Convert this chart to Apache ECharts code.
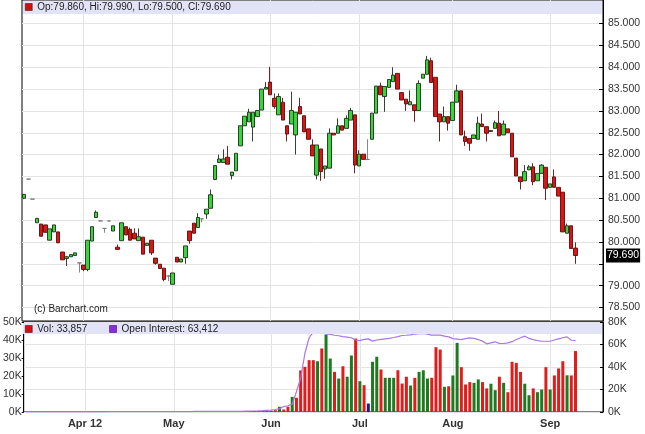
<!DOCTYPE html>
<html>
<head>
<meta charset="utf-8">
<script src="https://cdn.jsdelivr.net/npm/echarts@6/dist/echarts.min.js"></script>
<style>
  html, body { margin: 0; padding: 0; background: #fff; }
  #chart { width: 645px; height: 434px; }
</style>
</head>
<body>
<div id="chart"></div>
<script>
// Barchart-style daily candles with volume / open interest panel.
const FONT = '"Liberation Sans", Arial, sans-serif';
const C = {
  up: '#35d635', down: '#dc1414', upBorder: '#1e2e1e', downBorder: '#5c0b0b',
  doji: '#777', volUp: '#1e7a1e', volDown: '#e21b1b', volFlat: '#1b1b7a',
  oi: '#ad74e6', oiKey: '#8a2be2', grid: '#e3e3e3', band: '#e3e3f8', text: '#333',
};

// [open, close, low, high] per trading day
const prices = [
  [81.00,81.09,80.98,81.10],[81.44,81.44,81.44,81.44],[80.98,80.98,80.98,80.98],[80.44,80.54,80.44,80.54],
  [80.41,80.13,80.13,80.41],[80.39,80.22,80.22,80.39],[80.04,80.30,80.04,80.30],[80.23,80.39,80.23,80.39],
  [80.23,79.98,79.98,80.23],[79.77,79.59,79.59,79.77],[79.62,79.66,79.45,79.68],[79.66,79.71,79.66,79.71],
  [79.69,79.75,79.69,79.75],[79.52,79.52,79.30,79.52],[79.47,79.37,79.33,79.47],[79.37,80.04,79.33,80.04],
  [80.02,80.35,80.02,80.35],[80.56,80.68,80.56,80.72],[80.48,80.48,80.48,80.48],[80.31,80.31,80.21,80.31],
  [80.48,80.48,80.48,80.48],[80.25,80.37,80.25,80.37],[79.88,79.83,79.83,79.94],[80.03,80.44,80.03,80.44],
  [80.35,80.16,80.16,80.35],[80.29,80.04,80.04,80.33],[80.20,80.07,80.07,80.31],[80.03,80.12,80.03,80.31],
  [80.11,79.72,79.72,80.11],[79.92,79.97,79.92,79.97],[80.04,79.75,79.70,80.04],[79.63,79.51,79.48,79.63],
  [79.49,79.39,79.39,79.49],[79.40,79.14,79.10,79.40],[79.22,79.22,79.10,79.24],[79.03,79.29,79.03,79.29],
  [79.65,79.54,79.54,79.65],[79.54,79.61,79.54,79.61],[79.64,79.91,79.50,79.91],[80.25,80.03,79.96,80.25],
  [80.43,80.20,80.20,80.43],[80.33,80.56,80.33,80.66],[80.53,80.53,80.45,80.53],[80.64,80.75,80.53,80.75],
  [80.77,81.08,80.77,81.20],[81.43,81.75,81.43,81.75],[81.82,81.90,81.82,82.00],[81.82,81.90,81.82,82.12],
  [81.94,81.78,81.78,82.20],[81.52,81.60,81.43,81.60],[81.63,82.03,81.63,82.03],[82.20,82.66,82.20,82.66],
  [82.66,82.88,82.66,82.88],[82.75,82.97,82.75,83.05],[82.63,82.97,82.30,82.97],[82.87,83.01,82.87,83.01],
  [83.02,83.50,83.02,83.50],[83.50,83.54,83.50,83.66],[83.66,83.37,83.37,84.01],[83.29,83.10,83.05,83.40],
  [82.91,83.33,82.91,83.40],[83.20,82.79,82.79,83.30],[82.66,82.47,82.30,82.66],[82.70,83.01,82.70,83.44],
  [82.45,82.97,82.00,82.97],[83.10,82.93,82.93,83.30],[82.89,82.52,82.52,82.89],[82.59,82.35,82.35,82.59],
  [82.22,81.97,81.97,82.35],[81.53,82.22,81.43,82.22],[82.13,81.61,81.40,82.13],[81.67,81.74,81.45,81.74],
  [81.69,82.49,81.69,82.60],[82.49,82.45,82.45,82.49],[82.49,82.66,82.49,82.83],[82.66,82.56,82.56,82.66],
  [82.60,82.83,82.60,82.90],[82.79,83.01,82.79,83.07],[82.91,81.76,81.57,82.91],[81.74,82.01,81.74,82.10],
  [82.01,81.89,81.89,82.01],[81.89,81.89,81.89,82.35],[82.35,82.95,82.35,82.95],[82.95,83.57,82.95,83.57],
  [83.57,83.37,83.37,83.65],[83.33,83.56,82.98,83.56],[83.54,83.72,83.54,83.72],[83.67,83.82,83.67,84.00],
  [83.86,83.50,83.50,83.86],[83.42,83.25,83.25,83.42],[83.27,83.16,83.00,83.27],[83.14,83.21,83.14,83.47],
  [83.14,83.01,82.75,83.14],[83.01,83.63,83.01,83.70],[83.75,83.84,83.75,83.84],[83.84,84.17,83.84,84.26],
  [84.15,83.65,83.65,84.22],[83.77,82.87,82.87,83.77],[82.93,82.75,82.30,82.93],[82.75,82.87,82.75,83.10],
  [82.87,82.72,82.55,82.87],[82.78,83.20,82.78,83.20],[83.20,83.46,83.20,83.60],[83.46,82.45,82.45,83.46],
  [82.41,82.30,82.20,82.55],[82.37,82.26,82.09,82.37],[82.37,82.45,82.37,82.45],[82.35,82.72,82.35,82.87],
  [82.70,82.64,82.64,82.94],[82.64,82.49,82.30,82.64],[82.53,82.55,82.53,82.55],[82.60,82.73,82.60,82.78],
  [82.72,82.43,82.43,83.00],[82.45,82.70,82.45,82.78],[82.59,82.50,82.50,82.59],[82.49,81.95,81.95,82.49],
  [81.92,81.51,81.51,81.92],[81.49,81.38,81.20,81.49],[81.40,81.61,81.40,81.76],[81.65,81.72,81.65,81.76],
  [81.72,81.38,81.30,81.80],[81.40,81.57,81.40,81.57],[81.57,81.76,81.57,81.78],[81.71,81.23,80.96,81.71],
  [81.25,81.33,81.25,81.33],[81.49,81.25,81.25,81.66],[81.25,81.05,81.05,81.25],[81.14,80.23,80.23,81.14],
  [80.20,80.37,80.20,80.42],[80.37,79.85,79.85,80.37],[79.86,79.69,79.50,79.99],
];

// volume, thousands of contracts
const volume = [
  0.1,0.1,0.1,0.1,0.1,0.1,0.1,0.1,0.1,0.1,0.1,0.1,0.1,0.1,0.1,0.1,0.1,0.1,0.1,0.1,
  0.1,0.1,0.1,0.1,0.1,0.1,0.1,0.1,0.1,0.1,0.1,0.1,0.1,0.1,0.1,0.1,0.1,0.1,0.1,0.1,
  0.1,0.1,0.1,0.1,0.1,0.1,0.1,0.1,0.1,0.1,0.3,0.4,0.2,0.5,0.3,0.6,0.4,0.5,0.8,1.0,
  2.9,1.4,2.9,8.4,7.9,23.1,25.1,28.8,28.8,28.2,35.3,43.1,29.7,22.3,18.6,25.4,19.6,31.4,40.8,17.1,
  14.9,4.7,27.9,30.7,23.6,19.0,19.0,19.0,23.2,15.8,19.6,14.7,19.0,22.3,23.2,18.6,19.0,36.0,34.7,14.0,
  14.3,20.3,38.4,24.9,15.3,16.6,16.2,18.1,16.6,13.1,15.7,12.1,19.6,16.2,11.0,27.9,27.3,22.3,15.7,9.3,
  13.1,11.0,12.5,24.9,12.5,20.3,24.2,28.2,20.4,20.3,33.857,
];

// open interest, thousands of contracts
const openInterest = [
  0.2,0.2,0.2,0.2,0.2,0.2,0.2,0.2,0.2,0.2,0.2,0.2,0.2,0.2,0.2,0.2,0.2,0.2,0.2,0.2,
  0.3,0.3,0.3,0.3,0.3,0.3,0.3,0.3,0.3,0.3,0.3,0.3,0.3,0.3,0.3,0.3,0.3,0.3,0.3,0.3,
  0.5,0.5,0.5,0.5,0.5,0.5,0.5,0.5,0.5,0.5,0.5,0.6,0.7,0.8,0.9,1.0,1.2,1.5,1.8,2.2,
  3.0,4.9,5.5,7.0,18,30,52,66,71,71.8,71.2,69.5,69,68.2,67.8,67,66.5,66,64,63.5,
  64.5,65,63,64,64.5,65,65.5,66.2,67,68,68.2,68.5,69.3,69.6,69.8,69.2,68.3,68.3,68.3,67.5,
  66.8,65.2,64.8,64.4,65.2,65.9,65.5,64.4,63,60.6,61.5,62.4,61,60.9,61.5,62.5,64.4,66,67.4,65.5,
  64.4,63.5,62.9,62.9,62.9,64,65,66,66.8,63.8,63.412,
];

const tickLabels = [[14, 'Apr 12'], [35, 'May'], [58, 'Jun'], [79, 'Jul'], [101, 'Aug'], [124, 'Sep']];
const priceTicks = [78.5,79,79.5,80,80.5,81,81.5,82,82.5,83,83.5,84,84.5,85];
const priceLabels = priceTicks.filter(v => v !== 79.5); // hidden behind last-price tag
const SLOTS = 137;

const last = prices[prices.length - 1];
const cats = Array.from({ length: SLOTS }, (_, i) => String(i));
const labelAt = new Map(tickLabels);
const onTick = (i) => labelAt.has(i);

const volData = volume.map((v, i) => {
  const prev = i ? prices[i - 1][1] : prices[0][0];
  const c = prices[i][1];
  const color = c > prev ? C.volUp : c < prev ? C.volDown : C.volFlat;
  return { value: v, itemStyle: { color } };
});

const fmt3 = (v) => v.toFixed(3);
const k = (n) => n.toLocaleString('en-US');
const priceName = `Op:${fmt3(last[0])}, Hi:${fmt3(last[3])}, Lo:${fmt3(last[2])}, Cl:${fmt3(last[1])}`;
const volName = `Vol: ${k(Math.round(volume[volume.length - 1] * 1000))}`;
const oiName = `Open Interest: ${k(Math.round(openInterest[openInterest.length - 1] * 1000))}`;

const xAxisBase = (gridIndex, showLabels) => ({
  type: 'category', gridIndex, data: cats, boundaryGap: true,
  axisLine: { show: false },
  axisTick: { show: false },
  axisLabel: {
    show: showLabels, interval: (i) => onTick(i), formatter: (v) => labelAt.get(+v) || '',
    color: C.text, fontFamily: FONT, fontSize: 11, fontWeight: 'bold', margin: 6,
  },
  splitLine: { show: true, interval: (i) => onTick(i), alignWithLabel: true, lineStyle: { color: C.grid, width: 1 } },
});

const chart = echarts.init(document.getElementById('chart'), null, { renderer: 'canvas' });
chart.setOption({
  animation: false,
  backgroundColor: '#fff',
  textStyle: { fontFamily: FONT },
  grid: [
    { left: 22, right: 42, top: 0, height: 321, show: true, borderColor: '#000', borderWidth: 1, backgroundColor: '#fff' },
    { left: 22, right: 42, top: 322, height: 90, show: true, borderColor: '#000', borderWidth: 1, backgroundColor: '#fff' },
  ],
  graphic: [
    { type: 'rect', left: 23, top: 1, shape: { width: 579, height: 13 }, style: { fill: C.band }, z: 5 },
    { type: 'rect', left: 23, top: 323, shape: { width: 579, height: 11 }, style: { fill: C.band }, z: 5 },
    { type: 'text', left: 34, top: 304, style: { text: '(c) Barchart.com', fill: '#222', font: `10px ${FONT}` }, z: 6 },
  ],
  legend: [
    {
      left: 25, top: 2, itemWidth: 7, itemHeight: 7, itemGap: 6, padding: 0, z: 10,
      textStyle: { color: '#222', fontFamily: FONT, fontSize: 10 },
      data: [{ name: priceName, icon: 'rect', itemStyle: { color: '#d01010', borderColor: '#400', borderWidth: 0.5 } }],
    },
    {
      left: 25, top: 324, itemWidth: 7, itemHeight: 7, itemGap: 22, padding: 0, z: 10,
      textStyle: { color: '#222', fontFamily: FONT, fontSize: 10 },
      data: [
        { name: volName, icon: 'rect', itemStyle: { color: '#d01010', borderColor: '#400', borderWidth: 0.5 } },
        { name: oiName, icon: 'rect', itemStyle: { color: C.oiKey, borderColor: '#204', borderWidth: 0.5 } },
      ],
    },
  ],
  xAxis: [xAxisBase(0, false), xAxisBase(1, true)],
  yAxis: [
    {
      type: 'value', gridIndex: 0, position: 'right', min: 78.19, max: 85.54, scale: true,
      axisLine: { show: true, lineStyle: { color: '#000' } },
      axisTick: { show: true, inside: true, length: 4, lineStyle: { color: '#000' }, customValues: priceTicks },
      axisLabel: { color: C.text, fontFamily: FONT, fontSize: 10.5, margin: 5, customValues: priceLabels, formatter: fmt3 },
      splitLine: { show: true, lineStyle: { color: C.grid } },
    },
    {
      type: 'value', gridIndex: 1, position: 'left', min: 0, max: 50, interval: 10,
      axisLine: { show: true, lineStyle: { color: '#000' } },
      axisTick: { show: true, length: 2, lineStyle: { color: '#000' } },
      axisLabel: { color: C.text, fontFamily: FONT, fontSize: 10.5, margin: 2, formatter: (v) => v + 'K' },
      splitLine: { show: false },
    },
    {
      type: 'value', gridIndex: 1, position: 'right', min: 0, max: 80, interval: 20,
      axisLine: { show: true, lineStyle: { color: '#000' } },
      axisTick: { show: true, inside: true, length: 3, lineStyle: { color: '#000' } },
      axisLabel: { color: C.text, fontFamily: FONT, fontSize: 10.5, margin: 5, formatter: (v) => v + 'K' },
      splitLine: { show: true, lineStyle: { color: C.grid } },
    },
  ],
  series: [
    {
      name: priceName, type: 'candlestick', xAxisIndex: 0, yAxisIndex: 0, data: prices,
      barWidth: 4, clip: false,
      itemStyle: {
        color: C.up, color0: C.down, borderColor: C.upBorder, borderColor0: C.downBorder,
        borderColorDoji: C.doji, borderWidth: 0.9,
      },
      markLine: {
        symbol: 'none', silent: true, animation: false, z: 20,
        lineStyle: { color: 'rgba(0,0,0,0)', width: 0.1, type: 'solid' },
        emphasis: { disabled: true },
        label: {
          show: true, position: 'end', distance: 3, formatter: fmt3(last[1]),
          color: '#fff', backgroundColor: '#000', padding: [2, 1, 1, 1],
          fontFamily: FONT, fontSize: 10.5,
        },
        data: [{ yAxis: last[1] }],
      },
    },
    {
      name: volName, type: 'bar', xAxisIndex: 1, yAxisIndex: 1, data: volData,
      barWidth: 3, itemStyle: { color: C.volDown },
    },
    {
      name: oiName, type: 'line', xAxisIndex: 1, yAxisIndex: 2, data: openInterest,
      symbol: 'none', smooth: false, z: 3,
      lineStyle: { color: C.oi, width: 1.2 }, itemStyle: { color: C.oiKey },
    },
  ],
});
</script>
</body>
</html>
